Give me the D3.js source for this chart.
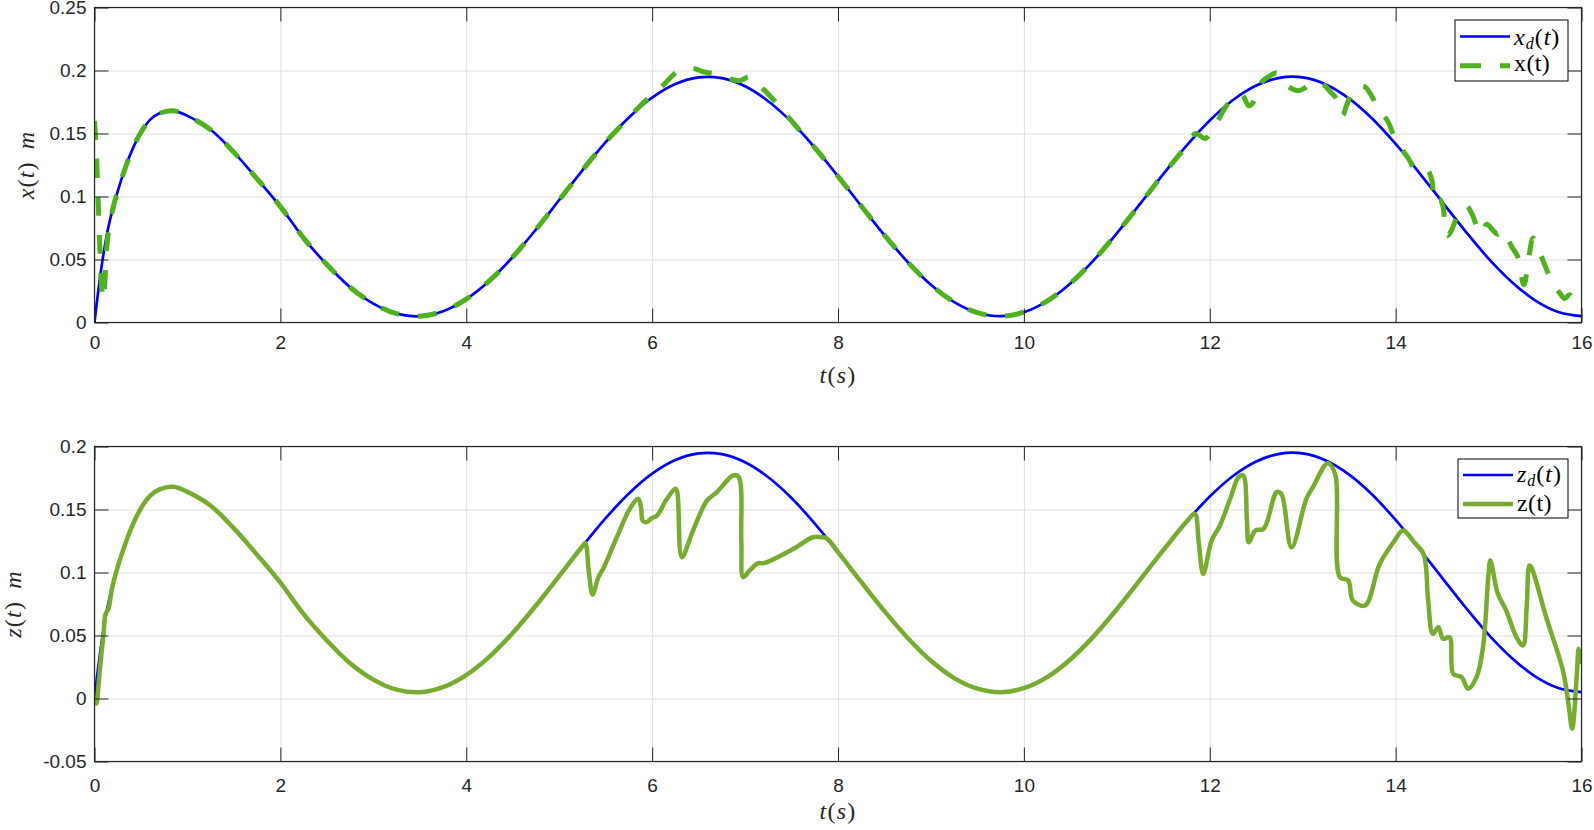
<!DOCTYPE html>
<html>
<head>
<meta charset="utf-8">
<script src="https://cdn.jsdelivr.net/npm/d3@7"></script>
<style>
html, body { margin: 0; padding: 0; background: #fff; }
svg { display: block; }
</style>
</head>
<body>
<svg id="chart" width="1594" height="830"></svg>
<script>
// ---- data ----
var xTicks = [0, 2, 4, 6, 8, 10, 12, 14, 16];
var xTickLabels = ["0", "2", "4", "6", "8", "10", "12", "14", "16"];
var yTicksTop = [0, 0.05, 0.1, 0.15, 0.2, 0.25];
var yLabelsTop = ["0", "0.05", "0.1", "0.15", "0.2", "0.25"];
var yTicksBot = [-0.05, 0, 0.05, 0.1, 0.15, 0.2];
var yLabelsBot = ["-0.05", "0", "0.05", "0.1", "0.15", "0.2"];

// desired trajectory (same for x_d and z_d)
var tRef = [0, 0.03, 0.06, 0.1, 0.15, 0.2, 0.3, 0.4, 0.5, 0.6, 0.7, 0.85, 1.0, 1.25, 1.5, 1.75,
  2.0, 2.25, 2.5, 2.75, 3.0, 3.25, 3.5, 3.75, 4.0, 4.25, 4.5, 4.75, 5.0, 5.25, 5.5, 5.75,
  6.0, 6.25, 6.5, 6.75, 7.0, 7.25, 7.5, 7.75, 8.0, 8.25, 8.5, 8.75, 9.0, 9.25, 9.5, 9.75,
  10.0, 10.25, 10.5, 10.75, 11.0, 11.25, 11.5, 11.75, 12.0, 12.25, 12.5, 12.75, 13.0, 13.25,
  13.5, 13.75, 14.0, 14.25, 14.5, 14.75, 15.0, 15.25, 15.5, 15.75, 16.0];
var refVals = [0, 0.019, 0.036, 0.056, 0.076, 0.091, 0.116, 0.136, 0.151, 0.161, 0.166, 0.168, 0.164, 0.153, 0.135, 0.114,
  0.092, 0.067, 0.046, 0.028, 0.015, 0.007, 0.005, 0.009, 0.0186, 0.0332, 0.052, 0.0738, 0.0972, 0.1208, 0.1431, 0.1627,
  0.1784, 0.1892, 0.1945, 0.1939, 0.1875, 0.1756, 0.1591, 0.1388, 0.1161, 0.0925, 0.0693, 0.048, 0.0299, 0.0162, 0.0078, 0.005,
  0.0082, 0.017, 0.031, 0.0493, 0.0708, 0.0941, 0.1177, 0.1403, 0.1603, 0.1766, 0.1881, 0.1942, 0.1945, 0.1889,
  0.1777, 0.1617, 0.1417, 0.1192, 0.0958, 0.0725, 0.0507, 0.0322, 0.0176, 0.0084, 0.005];

// measured x(t)
var tX = [0, 0.02, 0.04, 0.06, 0.08, 0.095, 0.11, 0.13, 0.15, 0.2, 0.3, 0.4, 0.5, 0.6, 0.7, 0.85, 1.0, 1.25, 1.5, 1.75,
  2.0, 2.25, 2.5, 2.75, 3.0, 3.25, 3.5, 3.75, 4.0, 4.25, 4.5, 4.75, 5.0, 5.25, 5.5, 5.75,
  5.9, 6.1, 6.3, 6.45, 6.55, 6.7, 6.85, 6.95, 7.05, 7.2, 7.35, 7.5, 7.75,
  8.0, 8.25, 8.5, 8.75, 9.0, 9.25, 9.5, 9.75, 10.0, 10.25, 10.5, 10.75, 11.0, 11.25, 11.5, 11.75,
  11.85, 11.95, 12.07, 12.2, 12.34, 12.42, 12.47, 12.55, 12.65, 12.72, 12.78, 12.85, 12.95, 13.02,
  13.12, 13.22, 13.3, 13.36, 13.43, 13.47, 13.52, 13.58, 13.67, 13.74, 13.8, 13.92, 14.0, 14.13,
  14.22, 14.3, 14.34, 14.39, 14.42, 14.47, 14.51, 14.53, 14.56, 14.6, 14.65, 14.69, 14.76, 14.82,
  14.88, 14.92, 14.98, 15.05, 15.1, 15.16, 15.25, 15.31, 15.38, 15.44, 15.48, 15.57, 15.65, 15.77,
  15.82, 15.87, 15.95, 16.0];
var xVals = [0.160, 0.135, 0.095, 0.055, 0.025, 0.018, 0.030, 0.058, 0.072, 0.091, 0.116, 0.136, 0.151, 0.161, 0.166, 0.168, 0.164, 0.153, 0.135, 0.114,
  0.092, 0.067, 0.046, 0.028, 0.015, 0.007, 0.005, 0.009, 0.0186, 0.0332, 0.052, 0.0738, 0.0972, 0.1208, 0.1431, 0.1627,
  0.174, 0.187, 0.2005, 0.2015, 0.199, 0.197, 0.193, 0.192, 0.195, 0.185, 0.173, 0.160, 0.1388,
  0.1161, 0.0925, 0.0693, 0.048, 0.0299, 0.0162, 0.0078, 0.005, 0.0082, 0.017, 0.031, 0.0493, 0.0708, 0.0941, 0.1177, 0.1403,
  0.150, 0.146, 0.158, 0.174, 0.181, 0.172, 0.175, 0.190, 0.196, 0.198, 0.194, 0.187, 0.184, 0.186,
  0.191, 0.189, 0.183, 0.178, 0.1645, 0.172, 0.181, 0.187, 0.187, 0.180, 0.172, 0.159, 0.145, 0.131,
  0.121, 0.120, 0.121, 0.113, 0.095, 0.098, 0.092, 0.076, 0.069, 0.073, 0.082, 0.0865, 0.0926, 0.0865,
  0.075, 0.0706, 0.078, 0.073, 0.070, 0.073, 0.060, 0.053, 0.030, 0.055, 0.067, 0.052, 0.038, 0.023,
  0.019, 0.022, 0.014, 0.010];

// measured z(t)
var tZ = [0, 0.02, 0.04, 0.06, 0.097, 0.115, 0.133, 0.15, 0.187, 0.22, 0.3, 0.4, 0.5, 0.6, 0.7, 0.85, 1.0, 1.25, 1.5, 1.75,
  2.0, 2.25, 2.5, 2.75, 3.0, 3.25, 3.5, 3.75, 4.0, 4.25, 4.5, 4.75, 5.0, 5.25,
  5.28, 5.32, 5.36, 5.42, 5.48, 5.62, 5.76, 5.85, 5.88, 5.9, 5.94, 6.0, 6.05, 6.16, 6.25, 6.27, 6.32,
  6.44, 6.59, 6.7, 6.87, 6.93, 6.96, 6.98, 7.05, 7.14, 7.2, 7.52, 7.73, 7.82, 7.88,
  8.0, 8.25, 8.5, 8.75, 9.0, 9.25, 9.5, 9.75, 10.0, 10.25, 10.5, 10.75, 11.0, 11.25, 11.5, 11.75,
  11.84, 11.88, 11.93, 12.02, 12.11, 12.22, 12.31, 12.36, 12.4, 12.42, 12.49, 12.58, 12.72, 12.77, 12.88,
  13.04, 13.11, 13.27, 13.35, 13.4, 13.49, 13.54, 13.67, 13.83, 13.99, 14.08, 14.2, 14.3,
  14.35, 14.4, 14.46, 14.51, 14.58, 14.62, 14.71, 14.78, 14.87, 14.94, 15.0, 15.02, 15.1, 15.19,
  15.3, 15.37, 15.41, 15.44, 15.46, 15.62, 15.8, 15.86, 15.9, 15.95, 15.97, 16.0];
var zVals = [0.001, -0.004, 0.008, 0.025, 0.051, 0.066, 0.069, 0.071, 0.087, 0.097, 0.116, 0.136, 0.151, 0.161, 0.166, 0.168, 0.164, 0.153, 0.135, 0.114,
  0.092, 0.067, 0.046, 0.028, 0.015, 0.007, 0.005, 0.009, 0.0186, 0.0332, 0.052, 0.0738, 0.0972, 0.1208,
  0.1233, 0.100, 0.0825, 0.096, 0.104, 0.128, 0.1505, 0.1585, 0.152, 0.141, 0.140, 0.1434, 0.145, 0.1585, 0.1664, 0.164, 0.1121,
  0.1333, 0.157, 0.164, 0.177, 0.176, 0.1254, 0.0963, 0.1016, 0.1074, 0.1074, 0.1188, 0.128, 0.128, 0.127,
  0.1161, 0.0925, 0.0693, 0.048, 0.0299, 0.0162, 0.0078, 0.005, 0.0082, 0.017, 0.031, 0.0493, 0.0708, 0.0941, 0.1177, 0.1403,
  0.1466, 0.125, 0.099, 0.1254, 0.1373, 0.1585, 0.1757, 0.177, 0.1413, 0.124, 0.1333, 0.1347, 0.1638, 0.1625, 0.120,
  0.1585, 0.1677, 0.1868, 0.178, 0.0963, 0.0937, 0.0778, 0.0738, 0.1069, 0.1254, 0.1333, 0.124, 0.1148,
  0.0778, 0.0513, 0.0566, 0.0474, 0.0487, 0.0196, 0.0169, 0.0077, 0.0169, 0.0407, 0.099, 0.1095, 0.0831, 0.0698,
  0.0487, 0.0421, 0.0725, 0.1056, 0.1042, 0.0645, 0.0222, -0.0042, -0.024, 0.0196, 0.0394, 0.0275];

// ---- drawing ----
var svg = d3.select("#chart");
var left = 94.5, right = 1581.5;
var axisColor = "#262626";
var blue = "#0000ff", greenDash = "#4fb11e", greenSolid = "#77ac30";

var x = d3.scaleLinear().domain([0, 16]).range([left, right]);

function styleText(sel) {
    sel.selectAll("text")
        .attr("font-family", "'Liberation Sans', Arial, Helvetica, sans-serif")
        .attr("font-size", 19)
        .attr("fill", axisColor);
}

function panel(p) {
    var y = d3.scaleLinear().domain(p.yDomain).range([p.bottom, p.top]);
    var h = p.bottom - p.top;
    var w = right - left;
    var g = svg.append("g");

    // grid
    var gx = g.append("g")
        .attr("transform", "translate(0," + p.bottom + ")")
        .call(d3.axisBottom(x).tickValues(xTicks).tickSize(-h).tickFormat(""));
    var gy = g.append("g")
        .attr("transform", "translate(" + left + ",0)")
        .call(d3.axisLeft(y).tickValues(p.yTicks).tickSize(-w).tickFormat(""));
    [gx, gy].forEach(function(s) {
        s.select(".domain").remove();
        s.selectAll("line").attr("stroke", "#dfdfdf").attr("stroke-width", 1);
    });

    var clipId = "clip" + p.id;
    svg.append("clipPath").attr("id", clipId)
        .append("rect").attr("x", left).attr("y", p.top).attr("width", w).attr("height", h);

    var line = d3.line()
        .x(function(d) { return x(d[0]); })
        .y(function(d) { return y(d[1]); })
        .curve(d3.curveCatmullRom.alpha(0.5));

    var curves = g.append("g").attr("clip-path", "url(#" + clipId + ")");
    p.series.forEach(function(s) {
        curves.append("path")
            .datum(d3.zip(s.t, s.v))
            .attr("d", line)
            .attr("fill", "none")
            .attr("stroke", s.color)
            .attr("stroke-width", s.width)
            .attr("stroke-dasharray", s.dash || null)
            .attr("stroke-linejoin", "round");
    });

    // ticks on all four sides, pointing inward
    var bx = g.append("g").attr("transform", "translate(0," + p.bottom + ")")
        .call(d3.axisBottom(x).tickValues(xTicks).tickSize(-14).tickSizeOuter(0)
            .tickPadding(p.xPad).tickFormat(function(d, i) { return xTickLabels[i]; }));
    var tx = g.append("g").attr("transform", "translate(0," + p.top + ")")
        .call(d3.axisTop(x).tickValues(xTicks).tickSize(-14).tickSizeOuter(0).tickFormat(""));
    var ly = g.append("g").attr("transform", "translate(" + left + ",0)")
        .call(d3.axisLeft(y).tickValues(p.yTicks).tickSize(-14).tickSizeOuter(0)
            .tickPadding(8).tickFormat(function(d, i) { return p.yLabels[i]; }));
    var ry = g.append("g").attr("transform", "translate(" + right + ",0)")
        .call(d3.axisRight(y).tickValues(p.yTicks).tickSize(-14).tickSizeOuter(0).tickFormat(""));
    [bx, tx, ly, ry].forEach(function(s) {
        s.select(".domain").remove();
        s.selectAll("line").attr("stroke", axisColor).attr("stroke-width", 1);
        styleText(s);
    });

    g.append("rect")
        .attr("x", left).attr("y", p.top).attr("width", w).attr("height", h)
        .attr("fill", "none").attr("stroke", axisColor).attr("stroke-width", 1.2);

    // axis labels (LaTeX look)
    var xl = g.append("text")
        .attr("x", (left + right) / 2).attr("y", p.xLabelY)
        .attr("text-anchor", "middle")
        .attr("font-family", "'Liberation Serif', 'Times New Roman', serif")
        .attr("font-size", 24).attr("fill", axisColor)
        .attr("letter-spacing", 1.2);
    xl.append("tspan").attr("font-style", "italic").text("t");
    xl.append("tspan").text("(");
    xl.append("tspan").attr("font-style", "italic").text("s");
    xl.append("tspan").text(")");

    var yl = g.append("text")
        .attr("transform", "translate(" + p.yLabelX + "," + ((p.top + p.bottom) / 2) + ") rotate(-90)")
        .attr("text-anchor", "middle")
        .attr("font-family", "'Liberation Serif', 'Times New Roman', serif")
        .attr("font-size", 24).attr("fill", axisColor)
        .attr("letter-spacing", 1.2);
    yl.append("tspan").attr("font-style", "italic").text(p.yVar);
    yl.append("tspan").text("(");
    yl.append("tspan").attr("font-style", "italic").text("t");
    yl.append("tspan").text(")");
    yl.append("tspan").attr("dx", 12).attr("font-style", "italic").text("m");

    // legend
    var L = p.legend;
    var lg = g.append("g");
    lg.append("rect")
        .attr("x", L.x).attr("y", L.y).attr("width", L.w).attr("height", L.h)
        .attr("fill", "#fff").attr("stroke", "#000").attr("stroke-width", 1);
    L.rows.forEach(function(r, i) {
        var s = p.series[i];
        lg.append("line")
            .attr("x1", L.x + 5).attr("x2", L.x + 55)
            .attr("y1", r.lineY).attr("y2", r.lineY)
            .attr("stroke", s.color).attr("stroke-width", s.width)
            .attr("stroke-dasharray", s.dash ? "21,19" : null);
        var t = lg.append("text")
            .attr("x", L.x + 59).attr("y", r.textY)
            .attr("font-family", "'Liberation Serif', 'Times New Roman', serif")
            .attr("font-size", 24).attr("fill", "#000");
        if (r.sub) {
            t.attr("letter-spacing", 1);
            t.append("tspan").attr("font-style", "italic").text(r.name);
            t.append("tspan").attr("font-style", "italic").attr("font-size", 16).attr("dy", 4).text(r.sub);
            t.append("tspan").attr("dy", -4).text("(");
            t.append("tspan").attr("font-style", "italic").text("t");
            t.append("tspan").text(")");
        } else {
            t.attr("letter-spacing", 0.4).text(r.name + "(t)");
        }
    });
}

panel({
    id: "top", top: 7.5, bottom: 322.5,
    yDomain: [0, 0.25], yTicks: yTicksTop, yLabels: yLabelsTop,
    xPad: 13.5, xLabelY: 382.5, yLabelX: 34, yVar: "x",
    series: [
        { t: tRef, v: refVals, color: blue, width: 2.7 },
        { t: tX, v: xVals, color: greenDash, width: 5, dash: "19,19" }
    ],
    legend: { x: 1455, y: 20, w: 113, h: 61,
        rows: [{ name: "x", sub: "d", lineY: 36.5, textY: 45 },
               { name: "x", lineY: 65.8, textY: 71 }] }
});

panel({
    id: "bot", top: 446.5, bottom: 761.5,
    yDomain: [-0.05, 0.2], yTicks: yTicksBot, yLabels: yLabelsBot,
    xPad: 17, xLabelY: 819, yLabelX: 21, yVar: "z",
    series: [
        { t: tRef, v: refVals, color: blue, width: 2.7 },
        { t: tZ, v: zVals, color: greenSolid, width: 4.5 }
    ],
    legend: { x: 1458, y: 459, w: 110, h: 59,
        rows: [{ name: "z", sub: "d", lineY: 475, textY: 482 },
               { name: "z", lineY: 504, textY: 511 }] }
});
</script>
</body>
</html>
